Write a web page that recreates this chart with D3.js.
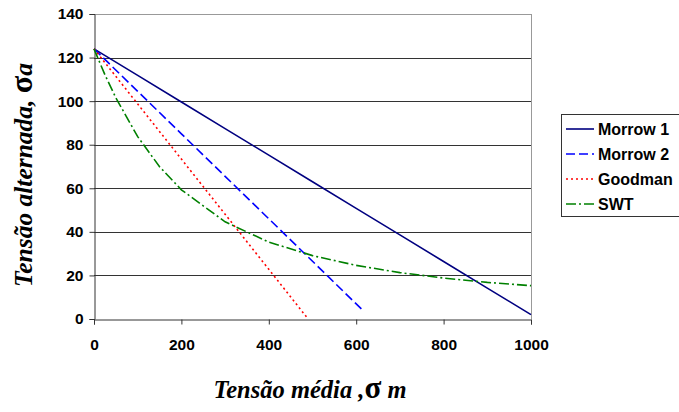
<!DOCTYPE html>
<html>
<head>
<meta charset="utf-8">
<script src="https://cdnjs.cloudflare.com/ajax/libs/d3/7.8.5/d3.min.js"></script>
<style>
  body { margin: 0; background: #fff; overflow: hidden; }
  svg { display: block; }
  .tick text { font-family: Arial, "Liberation Sans", sans-serif; font-weight: bold; font-size: 15.5px; fill: #000; }
  .title { font-family: "Times New Roman", "Liberation Serif", serif; font-weight: bold; font-style: italic; font-size: 24px; fill: #000; }
  .legend text { font-family: Arial, "Liberation Sans", sans-serif; font-weight: bold; font-size: 16px; fill: #000; }
</style>
</head>
<body>
<svg id="chart" width="679" height="412"></svg>
<script>
// values
var sigmaM = [0, 100, 200, 300, 400, 500, 600, 700, 800, 900, 1000];
var morrow1 = [124, 111.8, 99.6, 87.4, 75.2, 63, 50.8, 38.6, 26.4, 14.2, 2];

var sigmaM2 = [0, 100, 200, 300, 400, 500, 615];
var morrow2 = [124, 104.5, 85, 65.5, 46, 26.5, 4];

var sigmaMG = [0, 100, 200, 300, 400, 490];
var goodman = [124, 98.7, 73.4, 48.1, 22.8, 0];

var sigmaMS = [0, 25, 50, 100, 150, 200, 300, 400, 500, 600, 700, 800, 900, 1000];
var swt = [124, 112.1, 101.5, 83.7, 69.9, 59.3, 44.6, 35.3, 29.1, 24.6, 21.3, 18.8, 16.8, 15.3];

var xTicks = [0, 200, 400, 600, 800, 1000];
var yTicks = [0, 20, 40, 60, 80, 100, 120, 140];

var seriesNames = ['Morrow 1', 'Morrow 2', 'Goodman', 'SWT'];
var seriesColors = ['#000080', '#0000ff', '#ff0000', '#008000'];
var seriesDash = [null, '9,4', '2,3', '10,3,2,3'];

var svg = d3.select('#chart');

var plotLeft = 94, plotRight = 531, plotTop = 14, plotBottom = 319;

var x = d3.scaleLinear().domain([0, 1000]).range([plotLeft, plotRight]);
var y = d3.scaleLinear().domain([0, 140]).range([plotBottom, plotTop]);

// grid lines
svg.append('g')
    .selectAll('line')
    .data(yTicks.slice(1))
    .enter().append('line')
    .attr('x1', plotLeft).attr('x2', plotRight)
    .attr('y1', function(d) { return Math.round(y(d)) + 0.5; })
    .attr('y2', function(d) { return Math.round(y(d)) + 0.5; })
    .attr('stroke', function(d) { return d === 140 ? '#999' : '#333'; })
    .attr('stroke-width', 1);

// right border of plot area
svg.append('line')
    .attr('x1', plotRight + 0.5).attr('x2', plotRight + 0.5)
    .attr('y1', plotTop).attr('y2', plotBottom)
    .attr('stroke', '#999');

// axes
var xAxis = svg.append('g')
    .attr('transform', 'translate(0,' + (Math.round(plotBottom) + 0.5) + ')')
    .call(d3.axisBottom(x).tickValues(xTicks).tickFormat(d3.format('d')).tickSize(5).tickPadding(14));
var yAxis = svg.append('g')
    .attr('transform', 'translate(' + (plotLeft + 0.5) + ',0)')
    .call(d3.axisLeft(y).tickValues(yTicks).tickFormat(d3.format('d')).tickSize(5).tickPadding(6));

[xAxis, yAxis].forEach(function(a) {
    a.select('.domain').attr('stroke', '#333');
    a.selectAll('.tick line').attr('stroke', '#333');
});

// series
var seriesData = [
    d3.zip(sigmaM, morrow1),
    d3.zip(sigmaM2, morrow2),
    d3.zip(sigmaMG, goodman),
    d3.zip(sigmaMS, swt)
];

var line = d3.line()
    .x(function(d) { return x(d[0]); })
    .y(function(d) { return y(d[1]); });

svg.append('g')
    .selectAll('path')
    .data(seriesData)
    .enter().append('path')
    .attr('d', line)
    .attr('fill', 'none')
    .attr('stroke', function(d, i) { return seriesColors[i]; })
    .attr('stroke-width', 1.6)
    .attr('stroke-dasharray', function(d, i) { return seriesDash[i]; });

// legend
var legend = svg.append('g').attr('class', 'legend');
legend.append('rect')
    .attr('x', 561.5).attr('y', 114.5)
    .attr('width', 140).attr('height', 102)
    .attr('fill', '#fff').attr('stroke', '#333');

var entry = legend.selectAll('g.entry')
    .data(seriesNames)
    .enter().append('g')
    .attr('class', 'entry')
    .attr('transform', function(d, i) { return 'translate(0,' + (129 + i * 25) + ')'; });
entry.append('line')
    .attr('x1', 566).attr('x2', 594)
    .attr('stroke', function(d, i) { return seriesColors[i]; })
    .attr('stroke-width', 1.6)
    .attr('stroke-dasharray', function(d, i) { return seriesDash[i]; });
entry.append('text')
    .attr('x', 598).attr('dy', '0.36em')
    .text(function(d) { return d; });

// axis titles
svg.append('text')
    .attr('class', 'title')
    .attr('transform', 'translate(32,175) rotate(-90)')
    .attr('text-anchor', 'middle')
    .style('font-size', '25.5px')
    .html('Tensão alternada, <tspan font-style="normal" font-size="32">σ</tspan>a');

svg.append('text')
    .attr('class', 'title')
    .attr('x', 310).attr('y', 398)
    .attr('text-anchor', 'middle')
    .style('font-size', '24.5px')
    .html('Tensão média ,<tspan font-style="normal" font-size="31">σ</tspan> m');
</script>
</body>
</html>
